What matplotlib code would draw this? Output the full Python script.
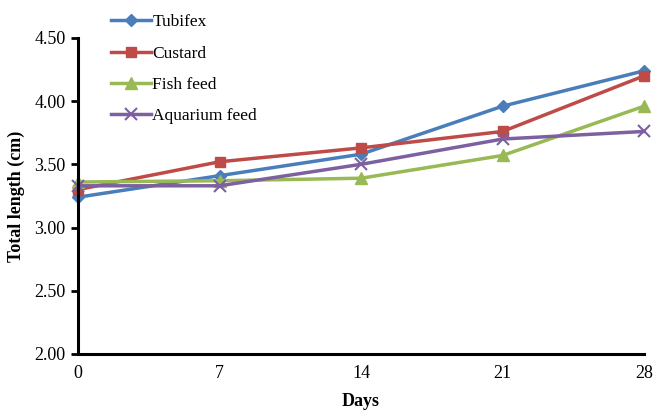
import matplotlib
matplotlib.use("Agg")
import matplotlib.pyplot as plt

days = [0, 7, 14, 21, 28]
tubifex = [3.24, 3.41, 3.58, 3.96, 4.24]
custard = [3.30, 3.52, 3.63, 3.76, 4.20]
fish_feed = [3.36, 3.37, 3.39, 3.57, 3.96]
aquarium_feed = [3.33, 3.33, 3.50, 3.70, 3.76]
yticks = [2.00, 2.50, 3.00, 3.50, 4.00, 4.50]

plt.rcParams['font.family'] = ['Liberation Serif', 'DejaVu Serif']

fig = plt.figure(figsize=(6.56, 4.12), dpi=100)
ax = fig.add_axes([0.119, 0.141, 0.863, 0.767])

ax.plot(days, tubifex, color='#4A7EBB', marker='D', markersize=6, lw=2.5, label='Tubifex')
ax.plot(days, custard, color='#BE4B48', marker='s', markersize=7, lw=2.5, label='Custard')
ax.plot(days, fish_feed, color='#98B954', marker='^', markersize=8, lw=2.5, label='Fish feed')
ax.plot(days, aquarium_feed, color='#7D60A0', marker='x', markersize=8, mew=1.5, lw=2.5, label='Aquarium feed')

ax.set_xlim(0, 28)
ax.set_ylim(2.0, 4.5)
ax.set_xticks(days)
ax.set_xticklabels([str(d) for d in days])
ax.set_yticks(yticks)
ax.set_yticklabels([f"{v:.2f}" for v in yticks])
for s in ['top', 'right']:
    ax.spines[s].set_visible(False)
for s in ['left', 'bottom']:
    ax.spines[s].set_linewidth(2.2)
ax.tick_params(axis='y', length=5, width=2, labelsize=13, pad=4)
ax.tick_params(axis='x', length=0, labelsize=13, pad=8)
ax.set_xlabel('Days', fontsize=13, fontweight='bold', labelpad=8)
ax.set_ylabel('Total length (cm)', fontsize=13, fontweight='bold', labelpad=7)

leg = ax.legend(loc='upper left', bbox_to_anchor=(0.03, 1.125), frameon=False,
                fontsize=12.5, handlelength=2.3, handletextpad=0.1, labelspacing=0.88)
for line in ax.get_lines():
    line.set_clip_on(False)

fig.savefig('out.png', dpi=100)
